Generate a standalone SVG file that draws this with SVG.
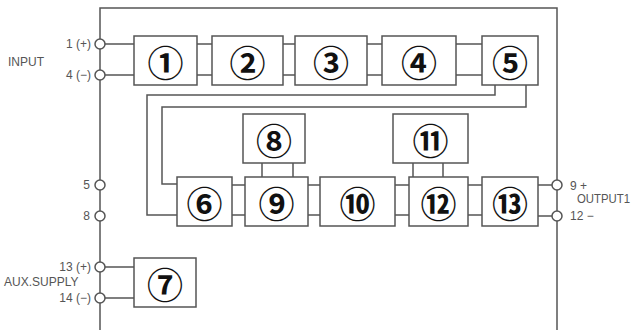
<svg xmlns="http://www.w3.org/2000/svg" width="632" height="330" viewBox="0 0 632 330">
<style>
.ln{fill:none;stroke:#555;stroke-width:1.5}
.bx{fill:#fff;stroke:#555;stroke-width:1.5}
.tm{fill:#fff;stroke:#555;stroke-width:1.5}
.num{font-family:"Noto Sans CJK JP","DejaVu Sans",sans-serif;font-size:36px;font-weight:bold;fill:#111;text-anchor:middle;dominant-baseline:central}
.lb{font-family:"Liberation Sans Narrow","Liberation Sans",sans-serif;font-size:12px;fill:#555}
</style>
<rect width="632" height="330" fill="#fff"/>
<g id="connectors">
<path class="ln" d="M100 340 V8 H557 V340"/>
<path class="ln" d="M100 44 H134 M100 75 H134"/>
<path class="ln" d="M197 44 H212 M197 75 H212"/>
<path class="ln" d="M283 44 H295 M283 75 H295"/>
<path class="ln" d="M367 44 H382 M367 75 H382"/>
<path class="ln" d="M456 44 H482 M456 75 H482"/>
<path class="ln" d="M495 85 V95 H147 V215 H177"/>
<path class="ln" d="M526 85 V107 H162 V184 H177"/>
<path class="ln" d="M232 185 H245 M232 215 H245"/>
<path class="ln" d="M308 185 H320 M308 215 H320"/>
<path class="ln" d="M395 185 H409 M395 215 H409"/>
<path class="ln" d="M468 185 H482 M468 215 H482"/>
<path class="ln" d="M538 185 H557 M538 216 H557"/>
<path class="ln" d="M262 163 V177 M293 163 V177"/>
<path class="ln" d="M413 163 V177 M443 163 V177"/>
<path class="ln" d="M100 267 H134 M100 298 H134"/>
</g>
<g id="terminals">
<circle class="tm" cx="100" cy="44" r="5"/>
<circle class="tm" cx="100" cy="75" r="5"/>
<circle class="tm" cx="100" cy="185" r="5"/>
<circle class="tm" cx="100" cy="216" r="5"/>
<circle class="tm" cx="100" cy="267" r="5"/>
<circle class="tm" cx="100" cy="298" r="5"/>
<circle class="tm" cx="557" cy="185" r="5"/>
<circle class="tm" cx="557" cy="216" r="5"/>
</g>
<g id="labels">
<text class="lb" x="91" y="48" text-anchor="end">1 (+)</text>
<text class="lb" x="8" y="66">INPUT</text>
<text class="lb" x="91" y="79" text-anchor="end">4 (−)</text>
<text class="lb" x="90" y="189" text-anchor="end">5</text>
<text class="lb" x="90" y="220" text-anchor="end">8</text>
<text class="lb" x="91" y="271" text-anchor="end">13 (+)</text>
<text class="lb" x="4" y="286">AUX.SUPPLY</text>
<text class="lb" x="91" y="302" text-anchor="end">14 (−)</text>
<text class="lb" x="570" y="190">9 +</text>
<text class="lb" x="577" y="203" textLength="53" lengthAdjust="spacingAndGlyphs">OUTPUT1</text>
<text class="lb" x="570" y="220">12 −</text>
</g>
<g id="n1"><rect class="bx" x="134" y="36" width="63" height="49"/><text class="num" x="165.5" y="60.5">①</text></g>
<g id="n2"><rect class="bx" x="212" y="36" width="71" height="49"/><text class="num" x="247.5" y="60.5">②</text></g>
<g id="n3"><rect class="bx" x="295" y="36" width="72" height="49"/><text class="num" x="331" y="60.5">③</text></g>
<g id="n4"><rect class="bx" x="382" y="36" width="74" height="49"/><text class="num" x="419" y="60.5">④</text></g>
<g id="n5"><rect class="bx" x="482" y="36" width="56" height="49"/><text class="num" x="510" y="60.5">⑤</text></g>
<g id="n8"><rect class="bx" x="243" y="114" width="62" height="49"/><text class="num" x="274" y="138.5">⑧</text></g>
<g id="n11"><rect class="bx" x="393" y="114" width="75" height="49"/><text class="num" x="430.5" y="138.5">⑪</text></g>
<g id="n6"><rect class="bx" x="177" y="177" width="55" height="49"/><text class="num" x="204.5" y="201.5">⑥</text></g>
<g id="n9"><rect class="bx" x="245" y="177" width="63" height="49"/><text class="num" x="276.5" y="201.5">⑨</text></g>
<g id="n10"><rect class="bx" x="320" y="177" width="75" height="49"/><text class="num" x="357.5" y="201.5">⑩</text></g>
<g id="n12"><rect class="bx" x="409" y="177" width="59" height="49"/><text class="num" x="438.5" y="201.5">⑫</text></g>
<g id="n13"><rect class="bx" x="482" y="177" width="56" height="49"/><text class="num" x="510" y="201.5">⑬</text></g>
<g id="n7"><rect class="bx" x="134" y="258" width="62" height="49"/><text class="num" x="165" y="282.5">⑦</text></g>
</svg>
